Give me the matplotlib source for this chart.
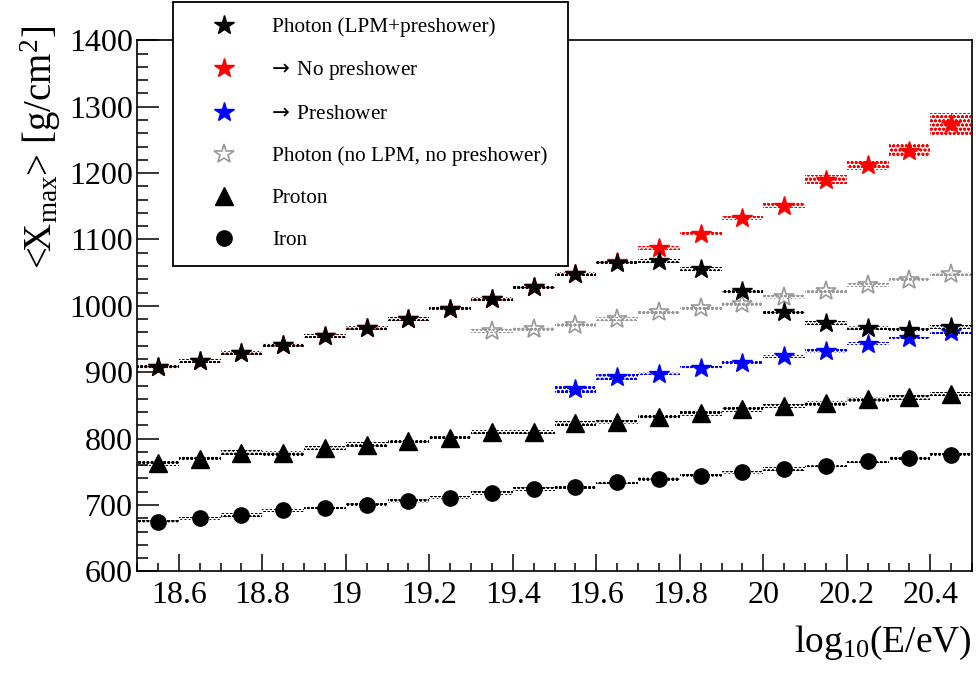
import numpy as np
import matplotlib
matplotlib.use("Agg")
import matplotlib.pyplot as plt
from matplotlib.lines import Line2D
from matplotlib.ticker import MultipleLocator

plt.rcParams['font.family'] = ['Liberation Serif', 'DejaVu Serif']
plt.rcParams['mathtext.fontset'] = 'custom'
plt.rcParams['mathtext.rm'] = 'Liberation Serif'
plt.rcParams['mathtext.it'] = 'Liberation Serif:italic'
plt.rcParams['mathtext.sf'] = 'DejaVu Sans'
plt.rcParams['hatch.linewidth'] = 0.9

# ---- data ----
energy = [18.55, 18.65, 18.75, 18.85, 18.95, 19.05, 19.15, 19.25, 19.35, 19.45,
          19.55, 19.65, 19.75, 19.85, 19.95, 20.05, 20.15, 20.25, 20.35, 20.45]

photon_lpm = [908, 917, 929, 941, 954, 966, 980, 996, 1011, 1028,
              1048, 1065, 1067, 1056, 1022, 990, 974, 966, 964, 968]
photon_lpm_err = [3] * 20

no_preshower = [908, 917, 929, 941, 954, 966, 980, 996, 1011, 1028,
                1048, 1066, 1087, 1109, 1133, 1151, 1190, 1212, 1234, 1274]
no_preshower_err = [3, 3, 3, 3, 3, 3, 3, 3, 3, 3,
                    3, 3, 3, 3, 3, 4, 7, 7.5, 10, 16]

preshower_energy = [19.55, 19.65, 19.75, 19.85, 19.95, 20.05, 20.15, 20.25, 20.35, 20.45]
preshower = [875, 893, 898, 907, 914, 924, 932, 943, 951, 960]
preshower_err = [6.5, 4.3, 2.5, 2.5, 2.5, 2.5, 2.5, 2.5, 2.5, 2.5]

nolpm_energy = [19.35, 19.45, 19.55, 19.65, 19.75, 19.85, 19.95, 20.05, 20.15, 20.25, 20.35, 20.45]
photon_nolpm = [962, 965, 971, 980, 990, 997, 1003, 1014, 1022, 1031, 1039, 1048]
photon_nolpm_err = [3] * 12

proton = [763, 770, 779, 778, 786, 791, 796, 801, 810, 810,
          823, 825, 833, 838, 844, 849, 853, 859, 862, 867]
proton_err = [3.5] * 20

iron = [675, 680, 685, 692, 696, 700, 706, 711, 718, 724,
        727, 734, 739, 744, 749, 754, 759, 766, 771, 776]
iron_err = [2.5] * 20

labels = ["Photon (LPM+preshower)", r"$\!\!\mathsf{\rightarrow}$ No preshower", r"$\!\!\mathsf{\rightarrow}$ Preshower",
          "Photon (no LPM, no preshower)", "Proton", "Iron"]

# ---- figure ----
fig = plt.figure(figsize=(9.76, 6.79), dpi=100)
ax = fig.add_axes([0.1404, 0.1585, 0.8555, 0.7821])

bin_w = 0.1

def band(x, y, e, color):
    x = np.asarray(x, float); y = np.asarray(y, float); e = np.asarray(e, float)
    ax.bar(x, 2 * e, bottom=y - e, width=bin_w, color='none', edgecolor=color,
           linewidth=0, hatch='oooo', zorder=2)

series = [
    (energy, no_preshower, no_preshower_err, 'red', dict(marker='*', ms=15, mfc='red', mec='red')),
    (preshower_energy, preshower, preshower_err, 'blue', dict(marker='*', ms=15, mfc='blue', mec='blue')),
    (nolpm_energy, photon_nolpm, photon_nolpm_err, '#999999', dict(marker='*', ms=15, mfc='none', mec='#999999', mew=1.2)),
    (energy, photon_lpm, photon_lpm_err, 'black', dict(marker='*', ms=15, mfc='black', mec='black')),
    (energy, proton, proton_err, 'black', dict(marker='^', ms=12.5, mfc='black', mec='black')),
    (energy, iron, iron_err, 'black', dict(marker='o', ms=11, mfc='black', mec='black')),
]
for x, y, e, c, mk in series:
    band(x, y, e, c)
    ax.plot(x, y, linestyle='none', zorder=3, **mk)

ax.set_xlim(18.5, 20.5)
ax.set_ylim(600, 1400)

ax.xaxis.set_minor_locator(MultipleLocator(0.05))
ax.yaxis.set_major_locator(MultipleLocator(100))
ax.yaxis.set_minor_locator(MultipleLocator(20))
ax.set_xticks([18.6, 18.8, 19.0, 19.2, 19.4, 19.6, 19.8, 20.0, 20.2, 20.4])
ax.set_xticklabels(["18.6", "18.8", "19", "19.2", "19.4", "19.6", "19.8", "20", "20.2", "20.4"])

ax.tick_params(axis='both', which='both', direction='in', top=False, right=False, width=1.1)
ax.tick_params(axis='y', which='major', length=16, labelsize=23, pad=3)
ax.tick_params(axis='y', which='minor', length=8)
ax.tick_params(axis='x', which='major', length=12, labelsize=23, pad=7)
ax.tick_params(axis='x', which='minor', length=5.5)
for s in ax.spines.values():
    s.set_linewidth(1.2)

fig.text(0.996, 0.025, r"log$_{10}$(E/eV)", ha='right', va='bottom', fontsize=27)
fig.text(0.019, 0.962, r"<X$_{\mathrm{max}}$> [g/cm$^{2}$]", rotation=90, ha='left', va='top', fontsize=28)

handles = [
    Line2D([], [], linestyle='none', marker='*', ms=15, mfc='black', mec='black'),
    Line2D([], [], linestyle='none', marker='*', ms=15, mfc='red', mec='red'),
    Line2D([], [], linestyle='none', marker='*', ms=15, mfc='blue', mec='blue'),
    Line2D([], [], linestyle='none', marker='*', ms=15, mfc='none', mec='#999999', mew=1.2),
    Line2D([], [], linestyle='none', marker='^', ms=12.5, mfc='black', mec='black'),
    Line2D([], [], linestyle='none', marker='o', ms=11, mfc='black', mec='black'),
]
x0 = 173 / 976
x1 = 568 / 976
leg = fig.legend(handles, labels, loc='upper left',
                 bbox_to_anchor=(x0, 0.62, x1 - x0, 0.377), mode='expand',
                 fontsize=15.3, frameon=True, fancybox=False, framealpha=1, edgecolor='black',
                 borderpad=0.72, labelspacing=1.04, handlelength=3.35, handletextpad=0.58,
                 borderaxespad=0)
leg.get_frame().set_linewidth(1.3)
leg.set_zorder(10)

fig.savefig("out.png", dpi=100)
